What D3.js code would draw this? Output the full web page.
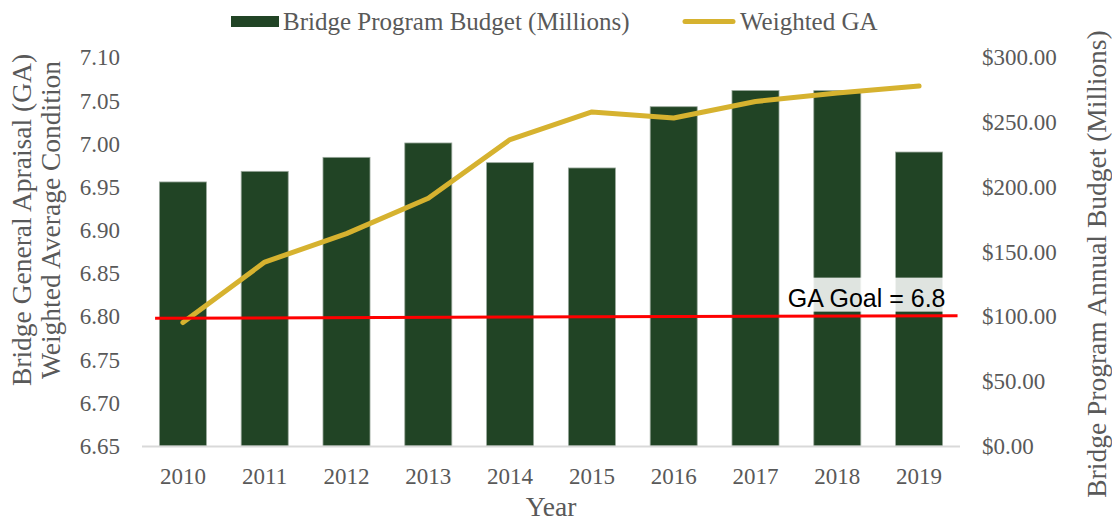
<!DOCTYPE html>
<html>
<head>
<meta charset="utf-8">
<script src="https://cdn.jsdelivr.net/npm/d3@7"></script>
<style>
  html, body { margin: 0; padding: 0; background: #fff; }
  svg { display: block; }
  .tick-label { font-family: 'Liberation Serif', 'Times New Roman', serif; font-size: 23px; fill: #595959; }
  .legend-label { font-family: 'Liberation Serif', 'Times New Roman', serif; font-size: 25px; fill: #595959; }
  .axis-title { font-family: 'Liberation Serif', 'Times New Roman', serif; font-size: 27.5px; fill: #595959; }
</style>
</head>
<body>
<svg id="chart" width="1112" height="522"></svg>
<script>
  // ─── Data ─────────────────────────────────────────
  const years = ['2010', '2011', '2012', '2013', '2014', '2015', '2016', '2017', '2018', '2019'];
  const budget = [203.9, 212.1, 222.9, 234.0, 218.8, 214.7, 262.0, 274.5, 274.4, 227.0];
  const weightedGA = [6.793, 6.863, 6.896, 6.937, 7.005, 7.037, 7.030, 7.049, 7.059, 7.067];
  const gaTicks = [6.65, 6.70, 6.75, 6.80, 6.85, 6.90, 6.95, 7.00, 7.05, 7.10];
  const budgetTicks = [0, 50, 100, 150, 200, 250, 300];
  const goalLine = [6.798, 6.801];   // hand-drawn goal line, start / end
  const goalLabel = 'GA Goal = 6.8';

  const W = 1112, H = 522;
  const m = { top: 57.5, right: 152, bottom: 76, left: 142 };
  const plotR = W - m.right, plotB = H - m.bottom;

  const svg = d3.select('#chart');

  const x = d3.scaleBand().domain(years)
    .range([m.left, plotR])
    .paddingInner(0.425)
    .paddingOuter(0.2125);
  const yGA = d3.scaleLinear().domain([6.65, 7.10]).range([plotB, m.top]);
  const yB = d3.scaleLinear().domain([0, 300]).range([plotB, m.top]);
  const xIdx = d3.scaleLinear().domain([0, years.length]).range([m.left, plotR]);

  // ─── Bars ─────────────────────────────────────────
  svg.append('g').selectAll('rect')
    .data(years)
    .join('rect')
    .attr('x', d => x(d))
    .attr('y', (d, i) => yB(budget[i]))
    .attr('width', x.bandwidth())
    .attr('height', (d, i) => plotB - yB(budget[i]))
    .attr('fill', '#214425')
    .attr('stroke', '#9aa89c')
    .attr('stroke-width', 0.8);

  // x axis baseline
  svg.append('line')
    .attr('x1', m.left).attr('x2', plotR)
    .attr('y1', plotB + 0.5).attr('y2', plotB + 0.5)
    .attr('stroke', '#d9d9d9').attr('stroke-width', 2);

  // ─── Weighted GA line ─────────────────────────────
  const line = d3.line()
    .x((d, i) => x(years[i]) + x.bandwidth() / 2)
    .y(d => yGA(d));

  svg.append('path')
    .datum(weightedGA)
    .attr('d', line)
    .attr('fill', 'none')
    .attr('stroke', '#d6b22f')
    .attr('stroke-width', 5)
    .attr('stroke-linecap', 'round')
    .attr('stroke-linejoin', 'round');

  // ─── Goal line + label ────────────────────────────
  const gx1 = xIdx(0.16), gx2 = xIdx(9.97);
  const lblG = svg.append('g');
  const lbl = lblG.append('text')
    .attr('x', gx2 - 12)
    .attr('y', yGA(goalLine[1]) - 9)
    .attr('text-anchor', 'end')
    .style('font-family', "'Liberation Sans', Arial, sans-serif")
    .style('font-size', '25px')
    .attr('fill', '#000')
    .text(goalLabel);
  const bb = lbl.node().getBBox();
  lblG.insert('rect', 'text')
    .attr('x', bb.x - 2)
    .attr('y', bb.y - 6)
    .attr('width', bb.width + 4)
    .attr('height', bb.height + 6)
    .attr('fill', '#fff')
    .attr('fill-opacity', 0.86);

  svg.append('line')
    .attr('x1', gx1).attr('x2', gx2)
    .attr('y1', yGA(goalLine[0])).attr('y2', yGA(goalLine[1]))
    .attr('stroke', '#ff0000')
    .attr('stroke-width', 3);

  // ─── Axes ─────────────────────────────────────────
  const axL = svg.append('g')
    .attr('transform', `translate(${m.left - 22},0)`)
    .call(d3.axisLeft(yGA).tickValues(gaTicks).tickFormat(d3.format('.2f')).tickSize(0).tickPadding(0));
  const axR = svg.append('g')
    .attr('transform', `translate(${plotR + 22},0)`)
    .call(d3.axisRight(yB).tickValues(budgetTicks).tickFormat(d3.format('$,.2f')).tickSize(0).tickPadding(0));
  const axB = svg.append('g')
    .attr('transform', `translate(0,${plotB + 22})`)
    .call(d3.axisBottom(x).tickSize(0).tickPadding(0));

  [axL, axR, axB].forEach(function (g) {
    g.select('.domain').remove();
    g.selectAll('.tick text')
      .attr('class', 'tick-label')
      .attr('fill', null)
      .style('font-size', null)
      .style('font-family', null);
  });
  axB.selectAll('.tick text').attr('dy', '0.71em');

  // ─── Axis titles ──────────────────────────────────
  svg.append('text').attr('class', 'axis-title')
    .attr('x', (m.left + plotR) / 2).attr('y', 516)
    .attr('text-anchor', 'middle')
    .text('Year');

  const leftTitle = svg.append('text').attr('class', 'axis-title')
    .attr('transform', 'translate(31,220) rotate(-90)')
    .attr('text-anchor', 'middle');
  leftTitle.append('tspan').attr('x', 0).attr('y', 0).text('Bridge General Apraisal (GA)');
  leftTitle.append('tspan').attr('x', 0).attr('y', 29).text('Weighted Average Condition');

  svg.append('text').attr('class', 'axis-title')
    .attr('transform', 'translate(1106,264) rotate(-90)')
    .attr('text-anchor', 'middle')
    .text('Bridge Program Annual Budget (Millions)');

  // ─── Legend ───────────────────────────────────────
  const legend = svg.append('g');
  legend.append('rect')
    .attr('x', 231).attr('y', 16).attr('width', 48).attr('height', 11)
    .attr('fill', '#214425');
  legend.append('text')
    .attr('class', 'legend-label')
    .attr('x', 283).attr('y', 30)
    .text('Bridge Program Budget (Millions)');
  legend.append('line')
    .attr('x1', 685).attr('x2', 733).attr('y1', 21.5).attr('y2', 21.5)
    .attr('stroke', '#d6b22f').attr('stroke-width', 5).attr('stroke-linecap', 'round');
  legend.append('text')
    .attr('class', 'legend-label')
    .attr('x', 740).attr('y', 30)
    .text('Weighted GA');
</script>
</body>
</html>
